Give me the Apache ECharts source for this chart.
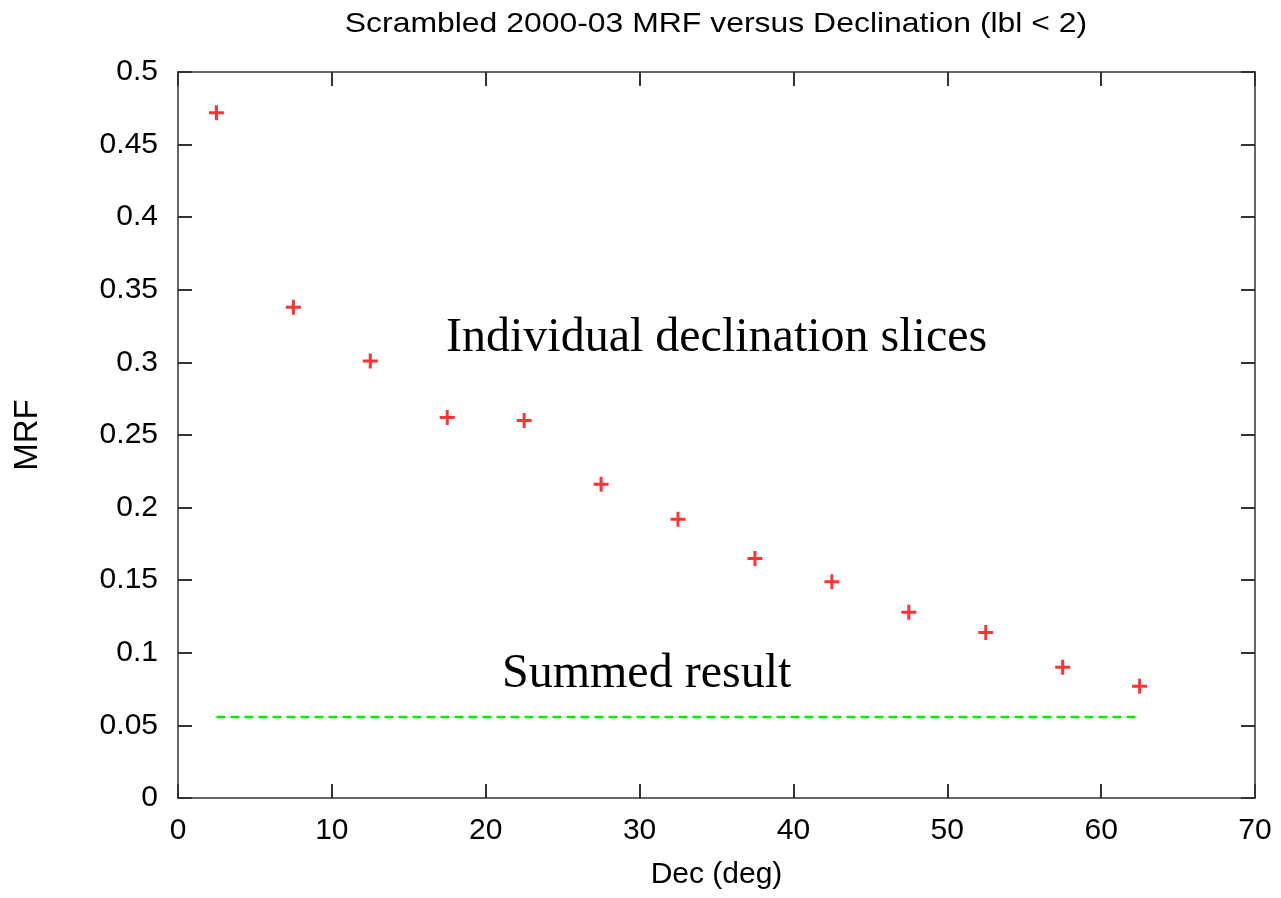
<!DOCTYPE html>
<html>
<head>
<meta charset="utf-8">
<script src="https://cdn.jsdelivr.net/npm/echarts@6/dist/echarts.min.js"></script>
<style>
  html, body { margin: 0; padding: 0; background: #fff; }
  #chart { width: 1281px; height: 898px; }
</style>
</head>
<body>
<div id="chart"></div>
<script>
// Declination slice centres (deg) and the MRF of each slice
const decCenters = [2.5, 7.5, 12.5, 17.5, 22.5, 27.5, 32.5, 37.5, 42.5, 47.5, 52.5, 57.5, 62.5];
const mrfValues = [0.472, 0.338, 0.301, 0.262, 0.260, 0.216, 0.192, 0.165, 0.149, 0.128, 0.114, 0.090, 0.077];
// MRF of all slices summed together, drawn across the declination range
const summedRange = [2.5, 62.5];
const summedMrf = 0.0557;

const chart = echarts.init(document.getElementById('chart'));

const sans = 'Liberation Sans, Arial, sans-serif';
const serifFont = '48px "Liberation Serif", "Times New Roman", serif';
const axisLineStyle = { color: '#666', width: 2 };
const tickStyle = { show: true, inside: true, length: 14, lineStyle: { color: '#333', width: 2 } };
const labelFont = { color: '#000', fontFamily: sans, fontSize: 30 };

// Filled plus glyph for the data points
const plus = 'path://M4,0h2v4h4v2h-4v4h-2v-4h-4v-2h4z';

// Shared settings for the four sides of the plot frame
function frameAxis(extra) {
  return Object.assign({
    type: 'value',
    axisLine: { show: true, onZero: false, lineStyle: axisLineStyle },
    axisTick: tickStyle,
    splitLine: { show: false }
  }, extra);
}

chart.setOption({
  animation: false,
  backgroundColor: '#fff',
  grid: { left: 178, right: 26, top: 72, bottom: 100 },
  xAxis: [
    frameAxis({
      min: 0, max: 70, interval: 10, position: 'bottom',
      name: 'Dec (deg)', nameLocation: 'middle', nameGap: 62,
      nameTextStyle: { color: '#000', fontFamily: sans, fontSize: 30 },
      axisLabel: Object.assign({ margin: 18 }, labelFont)
    }),
    frameAxis({
      min: 0, max: 70, interval: 10, position: 'top',
      axisLabel: { show: false }
    })
  ],
  yAxis: [
    frameAxis({
      min: 0, max: 0.5, interval: 0.05, position: 'left',
      name: 'MRF', nameLocation: 'middle', nameGap: 134, nameRotate: 90,
      nameTextStyle: { color: '#000', fontFamily: sans, fontSize: 33 },
      axisLabel: Object.assign({ margin: 20, formatter: v => String(+v.toFixed(2)) }, labelFont)
    }),
    frameAxis({
      min: 0, max: 0.5, interval: 0.05, position: 'right',
      axisLabel: { show: false }
    })
  ],
  series: [
    {
      name: 'Individual declination slices',
      type: 'scatter',
      symbol: plus,
      symbolSize: 15,
      itemStyle: { color: '#ff0000' },
      data: decCenters.map((d, i) => [d, mrfValues[i]])
    },
    {
      name: 'Summed result',
      type: 'line',
      showSymbol: false,
      symbol: 'none',
      lineStyle: { color: '#00ee00', width: 2.5, type: [9, 5] },
      data: summedRange.map(d => [d, summedMrf])
    }
  ],
  graphic: [
    {
      type: 'text', x: 716, y: 10, scaleX: 1.14, originX: 0,
      style: {
        text: 'Scrambled 2000-03 MRF versus Declination (lbl < 2)',
        fill: '#000', font: '28px ' + sans, align: 'center', verticalAlign: 'top'
      }
    },
    {
      type: 'text', left: 446, top: 314,
      style: { text: 'Individual declination slices', fill: '#000', font: serifFont }
    },
    {
      type: 'text', left: 502, top: 650,
      style: { text: 'Summed result', fill: '#000', font: serifFont }
    }
  ]
});
</script>
</body>
</html>
